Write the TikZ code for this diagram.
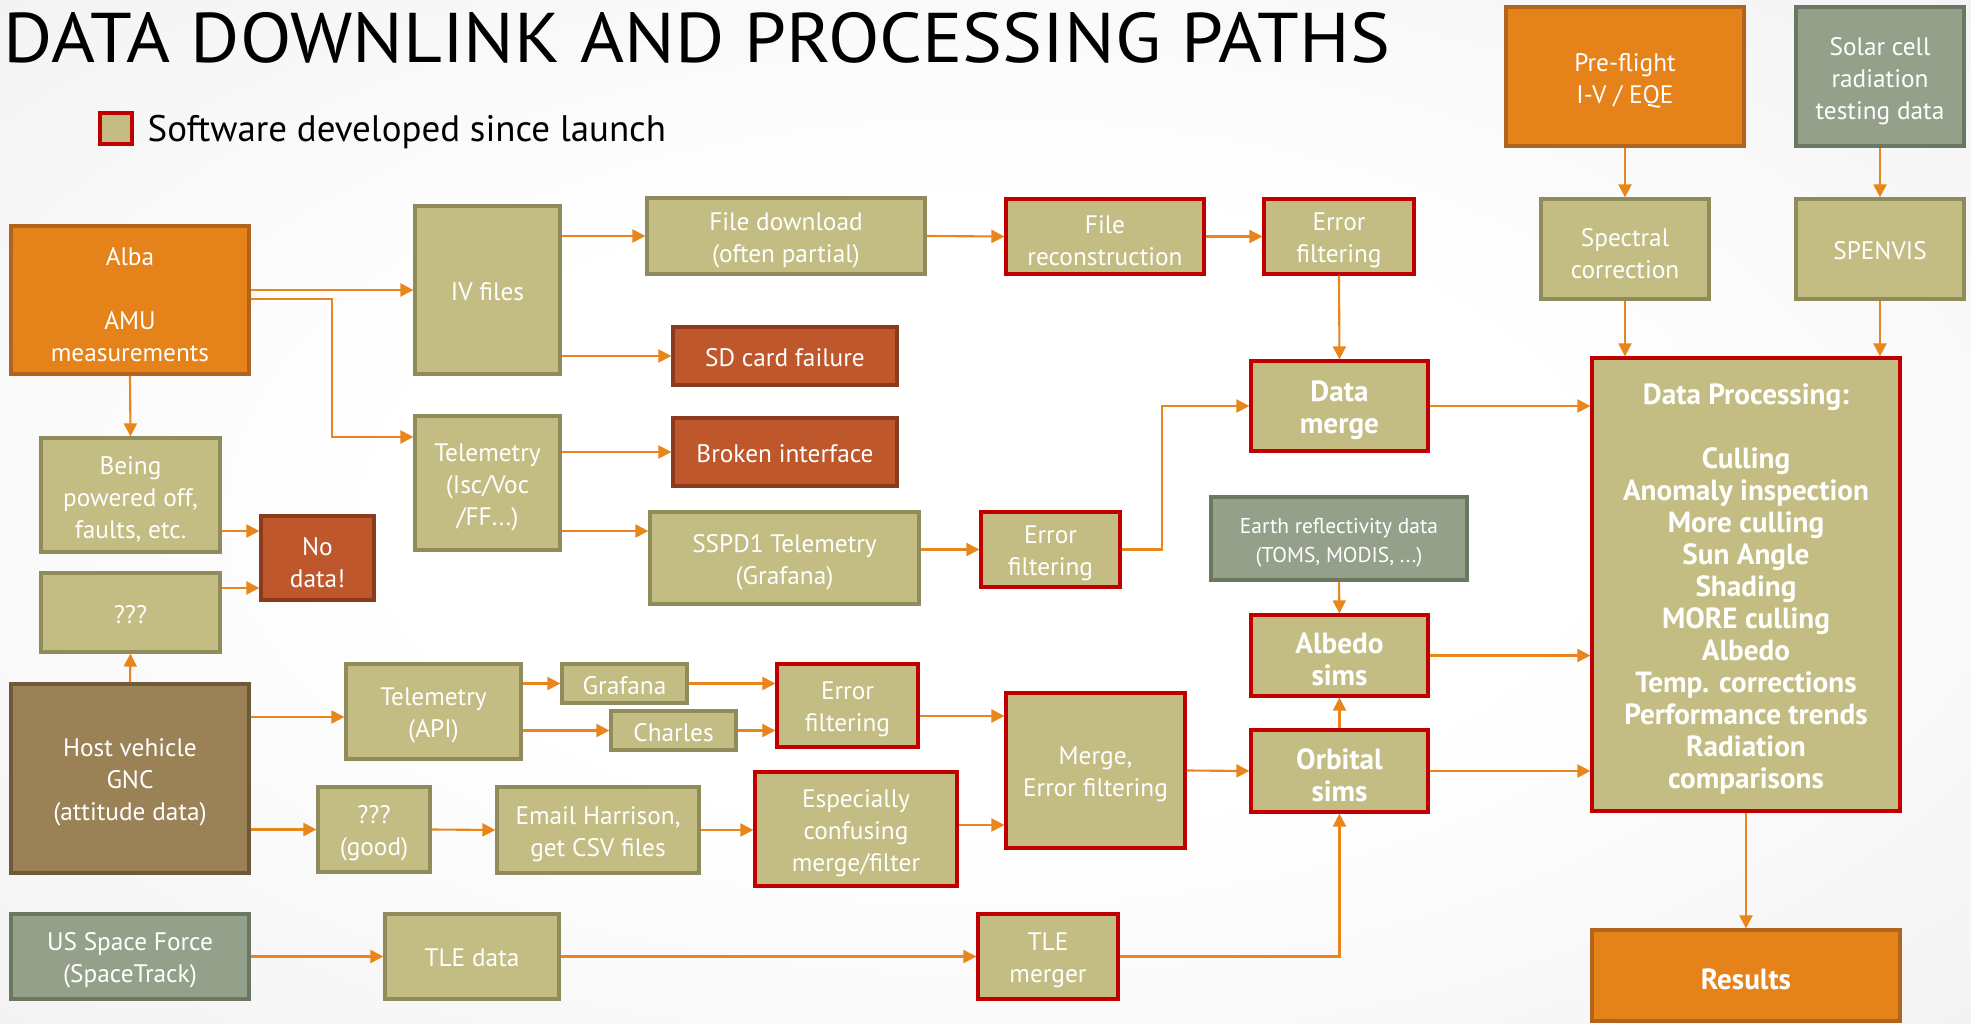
\documentclass[tikz,border=0pt]{standalone}
\usepackage{fontspec}
\setmainfont{PT Sans}
\usetikzlibrary{arrows.meta}

\definecolor{khaki}{HTML}{C4BD83}
\definecolor{khakiD}{HTML}{8F8B5B}
\definecolor{swred}{HTML}{C00000}
\definecolor{orangeF}{HTML}{E5821A}
\definecolor{orangeD}{HTML}{B0651C}
\definecolor{rustF}{HTML}{BE582C}
\definecolor{rustD}{HTML}{8B3A1C}
\definecolor{sageF}{HTML}{95A08A}
\definecolor{sageD}{HTML}{6B7761}
\definecolor{brownF}{HTML}{9B8256}
\definecolor{brownD}{HTML}{6D5A39}
\definecolor{flowc}{HTML}{E8861C}

\newcommand\lblfont{\fontsize{7.2}{9.1}\selectfont}
\newcommand\boldlbl{\fontsize{8.3}{9.1}\selectfont\bfseries}
\newcommand\smallfont{\fontsize{6.1}{8.4}\selectfont}
\newcommand\ttlfont{\fontsize{20}{22}\selectfont}
\newcommand\legfont{\fontsize{10.5}{12}\selectfont}

% box from corner (x1,y1) to (x2,y2), in pixel units; its text is set
% as a separate node, lowered a little (#8) for optical centring
\newcommand\boxat[8]{%
  \node[#6,minimum width={(#4-#2)*0.01cm},minimum height={(#5-#3)*0.01cm}] (#1) at ({(#2+#4)/2},{(#3+#5)/2}) {};
  \node[boxtext,#6,draw=none,fill=none] (#1-txt) at ([yshift=#8]#1.center) {#7};}
\newcommand\bx[7]{\boxat{#1}{#2}{#3}{#4}{#5}{#6}{#7}{-1.2pt}}
\newcommand\bxone[7]{\boxat{#1}{#2}{#3}{#4}{#5}{#6}{#7}{-0.5pt}}

\pgfdeclareradialshading{bgshade}{\pgfpoint{0bp}{0bp}}{color(0bp)=(white); color(15bp)=(white); color(50bp)=(black!8); color(72bp)=(black!10)}

\begin{document}
\begin{tikzpicture}[x=0.01cm,y=-0.01cm,
  box/.style={draw=khakiD,fill=khaki,line width=0.9pt,text=white,align=center,inner sep=1pt,font=\lblfont},
  boxtext/.style={inner sep=0pt,minimum width=0pt,minimum height=0pt},
  swbox/.style={box,draw=swred},
  orangebox/.style={box,fill=orangeF,draw=orangeD},
  rustbox/.style={box,fill=rustF,draw=rustD},
  sagebox/.style={box,fill=sageF,draw=sageD},
  brownbox/.style={box,fill=brownF,draw=brownD},
  bold/.style={font=\boldlbl},
  flow/.style={draw=flowc,line width=0.6pt,-{Triangle[length=0.13cm,width=0.13cm]}}]

\useasboundingbox (0,0) rectangle (1971,1024);
\shade[shading=bgshade] (0,0) rectangle (1971,1024);

% heading and legend
\node[anchor=base west,inner sep=0,font=\ttlfont,xscale=1.07] (title) at (3,62) {DATA DOWNLINK AND PROCESSING PATHS};
\node[draw=swred,fill=khaki,line width=0.9pt,minimum width=0.32cm,minimum height=0.31cm,inner sep=0] (legsq) at (116,128.5) {};
\node[anchor=base west,inner sep=0,font=\legfont] (legtxt) at (147,142) {Software developed since launch};

% sources
\bx{alba}{11}{226}{249}{374}{orangebox}{Alba\\[9.1pt]AMU\\measurements}
\bx{host}{11}{684}{249}{873}{brownbox}{Host vehicle\\GNC\\(attitude data)}
\bx{usf}{11}{914}{249}{999}{sagebox}{US Space Force\\(SpaceTrack)}
\bx{pre}{1506}{7}{1744}{146}{orangebox}{Pre-flight\\I-V / EQE}
\bx{solar}{1796}{7}{1964}{146}{sagebox}{Solar cell\\radiation\\testing data}
\bx{earth}{1211}{497}{1467}{580}{sagebox,font=\smallfont}{Earth reflectivity data\\(TOMS, MODIS, ...)}

% payload downlink
\bxone{ivf}{415}{206}{560}{374}{box}{IV files}
\bx{fd}{647}{198}{925}{274}{box}{File download\\(often partial)}
\bx{fr}{1006}{199}{1204}{274}{swbox}{File\\reconstruction}
\bx{errt}{1264}{199}{1414}{274}{swbox}{Error\\filtering}
\bxone{sd}{673}{327}{897}{385}{rustbox}{SD card failure}
\bxone{brk}{673}{418}{897}{486}{rustbox}{Broken interface}
\bx{telisc}{415}{416}{560}{550}{box}{Telemetry\\(Isc/Voc\\/FF...)}
\bx{sspd}{650}{512}{919}{604}{box}{SSPD1 Telemetry\\(Grafana)}
\bx{errm}{981}{512}{1120}{587}{swbox}{Error\\filtering}
\bx{dm}{1251}{361}{1428}{451}{swbox,bold}{Data\\merge}
\bx{being}{41}{438}{220}{552}{box}{Being\\powered off,\\faults, etc.}
\bx{nod}{261}{516}{374}{600}{rustbox}{No\\data!}
\bxone{qqq}{41}{573}{220}{652}{box}{???}

% attitude data
\bx{telapi}{346}{664}{521}{759}{box}{Telemetry\\(API)}
\bxone{graf}{562}{664}{687}{703}{box}{Grafana}
\bxone{charles}{611}{711}{736}{750}{box}{Charles}
\bx{errl}{777}{664}{918}{747}{swbox}{Error\\filtering}
\bx{qg}{318}{787}{430}{872}{box}{???\\(good)}
\bx{email}{497}{787}{699}{873}{box}{Email Harrison,\\get CSV files}
\bx{esp}{755}{772}{957}{886}{swbox}{Especially\\confusing\\merge/filter}
\bx{merge}{1006}{693}{1185}{848}{swbox}{Merge,\\Error filtering}

% orbit
\bxone{tled}{385}{914}{559}{999}{box}{TLE data}
\bx{tlem}{978}{914}{1118}{999}{swbox}{TLE\\merger}
\bx{alb}{1251}{615}{1428}{696}{swbox,bold}{Albedo\\sims}
\bx{orb}{1251}{730}{1428}{812}{swbox,bold}{Orbital\\sims}

% ground data and processing
\bx{spec}{1541}{199}{1709}{299}{box}{Spectral\\correction}
\bxone{spen}{1796}{199}{1964}{299}{box}{SPENVIS}
\bx{dp}{1592}{358}{1900}{811}{swbox,bold}{Data Processing:\\[9.1pt]Culling\\Anomaly inspection\\More culling\\Sun Angle\\Shading\\MORE culling\\Albedo\\Temp. corrections\\Performance trends\\Radiation\\comparisons}
\bx{res}{1592}{930}{1900}{1021}{orangebox,bold}{Results}

% connectors
\draw[flow] (alba.east |- ivf.west) -- (ivf.west);
\draw[flow] (alba.east |- 0,299) -- (332,299) |- (telisc.west |- 0,437);
\draw[flow] (alba.south) -- (being.north);
\draw[flow] (ivf.east |- fd.west) -- (fd.west);
\draw[flow] (ivf.east |- sd.west) -- (sd.west);
\draw[flow] (fd.east) -- (fr.west);
\draw[flow] (fr.east) -- (errt.west);
\draw[flow] (errt.south) -- (dm.north);
\draw[flow] (telisc.east |- brk.west) -- (brk.west);
\draw[flow] (telisc.east |- 0,531) -- (sspd.west |- 0,531);
\draw[flow] (sspd.east |- errm.west) -- (errm.west);
\draw[flow] (errm.east) -- ++(40,0) |- (dm.west);
\draw[flow] (dm.east) -- (dp.west |- dm.east);
\draw[flow] (earth.south) -- (alb.north);
\draw[flow] (alb.east) -- (dp.west |- alb.east);
\draw[flow] (orb.north) -- (alb.south);
\draw[flow] (orb.east) -- (dp.west |- orb.east);
\draw[flow] (being.east |- 0,531) -- (nod.west |- 0,531);
\draw[flow] (qqq.east |- 0,588) -- (nod.west |- 0,588);
\draw[flow] (host.north) -- (qqq.south);
\draw[flow] (host.east |- 0,717) -- (telapi.west |- 0,717);
\draw[flow] (host.east |- qg.west) -- (qg.west);
\draw[flow] (telapi.east |- graf.west) -- (graf.west);
\draw[flow] (telapi.east |- charles.west) -- (charles.west);
\draw[flow] (graf.east) -- (errl.west |- graf.east);
\draw[flow] (charles.east) -- (errl.west |- charles.east);
\draw[flow] (errl.east |- 0,716) -- (merge.west |- 0,716);
\draw[flow] (qg.east) -- (email.west);
\draw[flow] (email.east) -- (esp.west |- email.east);
\draw[flow] (esp.east |- 0,825) -- (merge.west |- 0,825);
\draw[flow] (merge.east) -- (orb.west);
\draw[flow] (usf.east) -- (tled.west);
\draw[flow] (tled.east) -- (tlem.west);
\draw[flow] (tlem.east) -| (orb.south);
\draw[flow] (pre.south) -- (spec.north);
\draw[flow] (solar.south) -- (spen.north);
\draw[flow] (spec.south) -- (spec.south |- dp.north);
\draw[flow] (spen.south) -- (spen.south |- dp.north);
\draw[flow] (dp.south) -- (res.north);
\end{tikzpicture}
\end{document}
